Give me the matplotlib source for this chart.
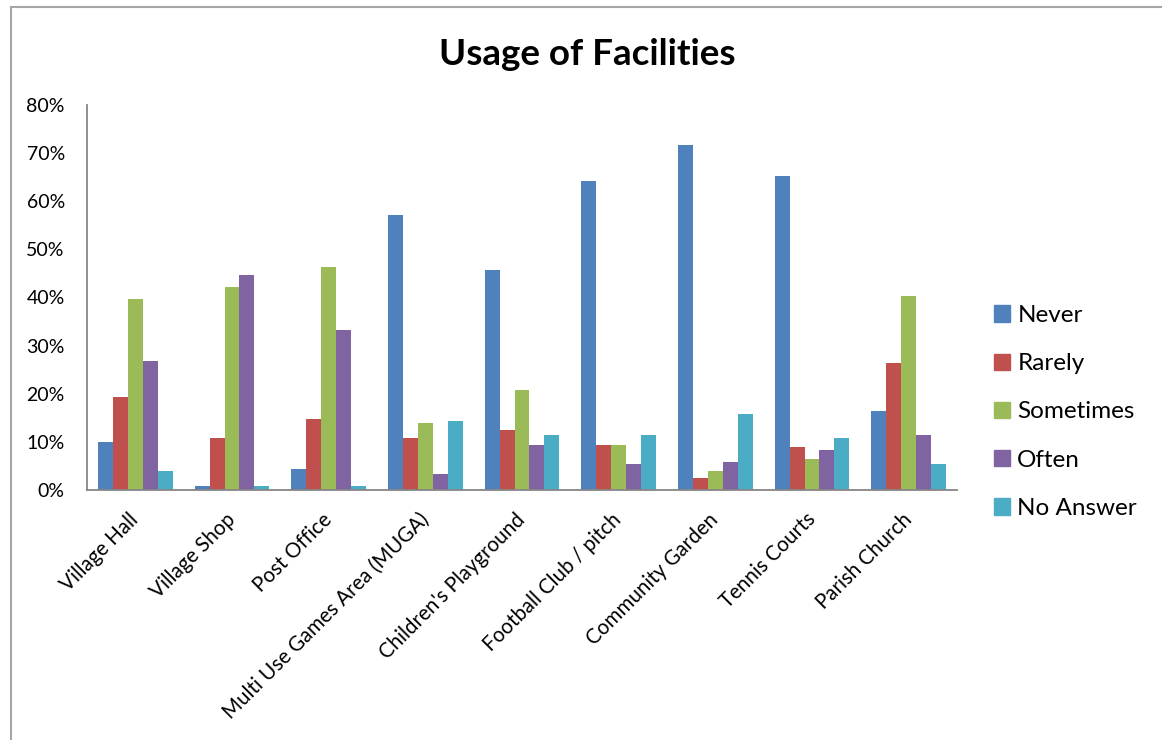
import matplotlib
matplotlib.use("Agg")
import matplotlib.pyplot as plt
import numpy as np
from matplotlib.lines import Line2D
from matplotlib.ticker import FuncFormatter

FACILITIES = [
    "Village Hall",
    "Village Shop",
    "Post Office",
    "Multi Use Games Area (MUGA)",
    "Children's Playground",
    "Football Club / pitch",
    "Community Garden",
    "Tennis Courts",
    "Parish Church",
]
SERIES = ["Never", "Rarely", "Sometimes", "Often", "No Answer"]

NEVER = [10.0, 0.8, 4.4, 57.1, 45.7, 64.2, 71.7, 65.2, 16.4]
RARELY = [19.3, 10.8, 14.8, 10.8, 12.5, 9.3, 2.5, 8.9, 26.4]
SOMETIMES = [39.7, 42.2, 46.3, 13.9, 20.8, 9.3, 3.9, 6.4, 40.3]
OFTEN = [26.8, 44.7, 33.2, 3.3, 9.3, 5.4, 5.8, 8.3, 11.4]
NO_ANSWER = [3.9, 0.8, 0.8, 14.3, 11.4, 11.4, 15.8, 10.8, 5.4]

Y_TICKS = [0, 10, 20, 30, 40, 50, 60, 70, 80]

COLORS = ["#4F81BD", "#C0504D", "#9BBB59", "#8064A2", "#4BACC6"]
AXIS_GREY = "#868686"
FONT = ["Lato", "DejaVu Sans"]

plt.rcParams["font.family"] = FONT

W, H = 1162, 740
fig = plt.figure(figsize=(W / 100, H / 100), dpi=100)
ax = fig.add_axes([87 / W, 1 - 490 / H, (957 - 87) / W, (490 - 105) / H])

values = [NEVER, RARELY, SOMETIMES, OFTEN, NO_ANSWER]
x = np.arange(len(FACILITIES))
bar_w = 0.155
for i, (name, vals) in enumerate(zip(SERIES, values)):
    ax.bar(x + (i - 2) * bar_w, vals, width=bar_w, color=COLORS[i], label=name, linewidth=0)

ax.set_xlim(-0.5, len(FACILITIES) - 0.5)
ax.set_ylim(0, 80)
ax.set_yticks(Y_TICKS)
ax.yaxis.set_major_formatter(FuncFormatter(lambda v, _: f"{int(v)}%"))
ax.tick_params(axis="y", length=0, pad=16, labelsize=14)
ax.tick_params(axis="x", length=0)
ax.set_xticks(x)
ax.set_xticklabels(FACILITIES, rotation=45, ha="right", va="center",
                   rotation_mode="anchor", fontsize=14.8)
ax.tick_params(axis="x", pad=19)

for side in ("top", "right"):
    ax.spines[side].set_visible(False)
for side in ("left", "bottom"):
    ax.spines[side].set_color(AXIS_GREY)
    ax.spines[side].set_linewidth(1.3)

fig.text(587 / W, 1 - 65 / H, "Usage of Facilities", ha="center", va="baseline",
         fontsize=26.5, fontweight="bold")

handles = [plt.Rectangle((0, 0), 1, 1, color=c) for c in COLORS]
fig.legend(handles, SERIES, loc="center left", bbox_to_anchor=(994 / W, 1 - 412 / H),
           frameon=False, fontsize=17.5, handlelength=0.66, handleheight=0.66,
           handletextpad=0.3, labelspacing=1.12, borderpad=0, borderaxespad=0)

# outer chart frame (left and top edges visible in the crop)
fig.add_artist(Line2D([11 / W, 11 / W], [0, 1 - 7 / H], transform=fig.transFigure,
                      color="#A6A6A6", linewidth=1.5))
fig.add_artist(Line2D([11 / W, 1], [1 - 7 / H, 1 - 7 / H], transform=fig.transFigure,
                      color="#A6A6A6", linewidth=1.5))

fig.savefig("out.png", dpi=100, facecolor="white")
